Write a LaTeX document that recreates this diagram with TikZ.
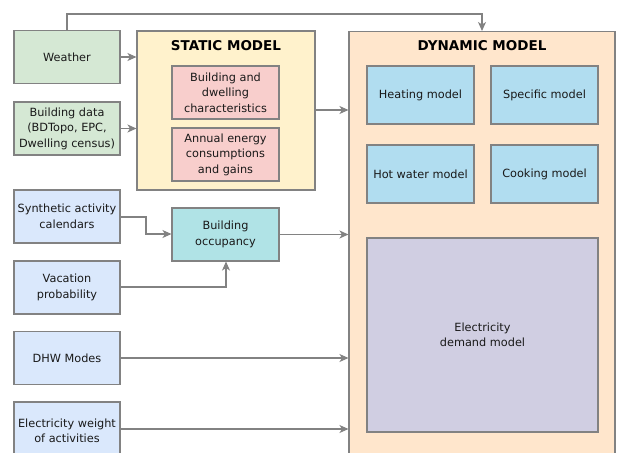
\documentclass[tikz,border=0pt]{standalone}
\usepackage{fontspec}
\setmainfont{DejaVu Sans}
\usetikzlibrary{arrows.meta}
\definecolor{cgreen}{HTML}{D5E8D4}
\definecolor{cyellow}{HTML}{FFF2CC}
\definecolor{cpink}{HTML}{F8CECC}
\definecolor{corange}{HTML}{FFE6CC}
\definecolor{cblue}{HTML}{B1DDF0}
\definecolor{clblue}{HTML}{DAE8FC}
\definecolor{cteal}{HTML}{B0E3E6}
\definecolor{cpurple}{HTML}{D0CEE2}
\definecolor{cstroke}{HTML}{828282}
\begin{document}
\begin{tikzpicture}[x=1pt,y=-1pt,
  box/.style={draw=cstroke, line width=1.1pt, align=center, inner sep=1pt,
    font=\fontsize{11.3}{15.5}\selectfont, text=black!90},
  bx/.style={box, minimum width=106pt, minimum height=53pt},
  title/.style={font=\fontsize{13.5}{16}\selectfont\bfseries, inner sep=0pt},
  conn/.style={draw=cstroke, line width=1.1pt, -{Stealth[length=9pt,width=8pt,inset=2.5pt]}}
]
\useasboundingbox (0,0) rectangle (617,452);
\clip (0,0) rectangle (617,452);
% big containers
\node[box, fill=cyellow, minimum width=178pt, minimum height=159pt] (static) at (226,110.5) {};
\node[title] (stitle) at (226,46) {STATIC MODEL};
\node[box, fill=corange, minimum width=266pt, minimum height=440pt, anchor=north] (dynamic) at (482,31) {};
\node[title] (dtitle) at (482,46) {DYNAMIC MODEL};
% left inputs
\node[bx, fill=cgreen] (weather) at (67,57) {Weather};
\node[bx, fill=cgreen] (bdata) at (67,128.5) {Building data\\(BDTopo, EPC,\\Dwelling census)};
\node[bx, fill=clblue] (synth) at (67,216.5) {Synthetic activity\\calendars};
\node[bx, fill=clblue] (vac) at (67,287.5) {Vacation\\probability};
\node[bx, fill=clblue] (dhw) at (67,358) {DHW Modes};
\node[box, fill=clblue, minimum width=106pt, minimum height=58pt] (elec) at (67,431) {Electricity weight\\of activities};
% static contents
\node[box, fill=cpink, minimum width=107pt, minimum height=53pt] (bdc) at (225.5,92.5) {Building and\\dwelling\\characteristics};
\node[box, fill=cpink, minimum width=107pt, minimum height=53pt] (annual) at (225.5,154.5) {Annual energy\\consumptions\\and gains};
% occupancy
\node[box, fill=cteal, minimum width=107pt, minimum height=53pt] (occ) at (225.5,234.5) {Building\\occupancy};
% dynamic contents
\node[box, fill=cblue, minimum width=107pt, minimum height=58pt] (heat) at (420.5,95) {Heating model};
\node[box, fill=cblue, minimum width=107pt, minimum height=58pt] (spec) at (544.5,95) {Specific model};
\node[box, fill=cblue, minimum width=107pt, minimum height=58pt] (hot) at (420.5,174) {Hot water model};
\node[box, fill=cblue, minimum width=107pt, minimum height=58pt] (cook) at (544.5,174) {Cooking model};
\node[box, fill=cpurple, minimum width=231pt, minimum height=194pt] (edm) at (482.5,335) {Electricity\\demand model};
% connectors
\draw[conn] (weather.north) -- (67,14) -- (482,14) -- (dynamic.north);
\draw[conn] (weather.east) -- (static.west |- weather.east);
\draw[conn] (bdata.east) -- (static.west |- bdata.east);
\draw[conn] (static.east |- 0,110) -- (dynamic.west |- 0,110);
\draw[conn] (synth.east |- 0,217) -- (146,217) -- (146,234) -- (occ.west |- 0,234);
\draw[conn] (vac.east |- 0,287) -- (226,287) -- (occ.south -| 226,0);
\draw[conn] (occ.east) -- (dynamic.west |- occ.east);
\draw[conn] (dhw.east) -- (dynamic.west |- dhw.east);
\draw[conn] (elec.east |- 0,429) -- (dynamic.west |- 0,429);
\end{tikzpicture}
\end{document}
